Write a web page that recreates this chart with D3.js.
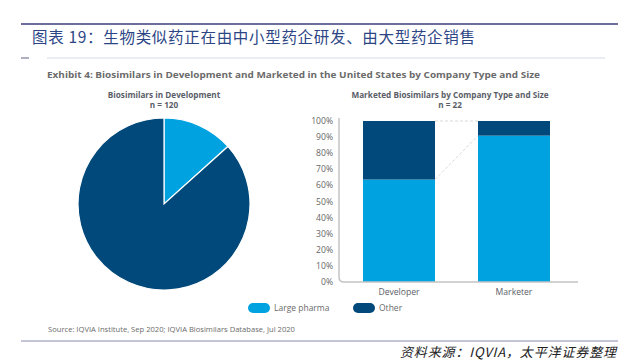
<!DOCTYPE html>
<html><head><meta charset="utf-8">
<script src="https://cdn.jsdelivr.net/npm/d3@7"></script>
<style>body{margin:0;background:#fff}svg{display:block}</style>
</head><body>
<script>
const series = ["Large pharma", "Other"];
const pieValues = [16, 104];
const barCategories = ["Developer", "Marketer"];
const barLarge = [14, 20];
const barOther = [8, 2];
const yTicks = [0,10,20,30,40,50,60,70,80,90,100];
const colors = ["#00a3e0", "#00497a"];

const W = 618, H = 360;
const svg = d3.select("body").append("svg").attr("width", W).attr("height", H);
const EN = "'Open Sans', sans-serif";
const CJK = "'Noto Sans CJK SC', sans-serif";

// header
svg.append("line").attr("x1",21).attr("x2",618).attr("y1",24).attr("y2",24).attr("stroke","#6e6e9c").attr("stroke-width",2);
svg.append("text").attr("x",32).attr("y",43).attr("font-family",CJK).attr("font-size",15.5).attr("fill","#2c4585")
  .attr("textLength",443).attr("lengthAdjust","spacing")
  .text("图表 19：生物类似药正在由中小型药企研发、由大型药企销售");
svg.append("line").attr("x1",47).attr("x2",605).attr("y1",58).attr("y2",58).attr("stroke","#d4dbe8").attr("stroke-width",1);
svg.append("line").attr("x1",21).attr("x2",29).attr("y1",58).attr("y2",58).attr("stroke","#777a9a").attr("stroke-width",1.2);
svg.append("text").attr("x",47).attr("y",78).attr("font-family",EN).attr("font-weight","bold").attr("font-size",9.6).attr("fill","#6b6b6b")
  .attr("textLength",493).attr("lengthAdjust","spacingAndGlyphs")
  .text("Exhibit 4: Biosimilars in Development and Marketed in the United States by Company Type and Size");

// pie
const cx = 164, cy = 204, r = 86;
const tcol = "#5a5e68";
svg.append("text").attr("x",cx).attr("y",98).attr("text-anchor","middle").attr("font-family",EN).attr("font-weight","bold").attr("font-size",8.2).attr("fill",tcol).text("Biosimilars in Development");
svg.append("text").attr("x",cx).attr("y",108).attr("text-anchor","middle").attr("font-family",EN).attr("font-weight","bold").attr("font-size",8.2).attr("fill",tcol).text("n = " + d3.sum(pieValues));
const pie = d3.pie().sort(null)(pieValues);
const arc = d3.arc().innerRadius(0).outerRadius(r);
svg.append("g").attr("transform",`translate(${cx},${cy})`).selectAll("path").data(pie).join("path")
  .attr("d",arc).attr("fill",(d,i)=>colors[i]).attr("stroke","#fff").attr("stroke-width",1.2);

// bar chart
const x0 = 339, x1 = 578, yTop = 121, yBot = 282;
svg.append("text").attr("x",450).attr("y",98).attr("text-anchor","middle").attr("font-family",EN).attr("font-weight","bold").attr("font-size",8.2).attr("fill",tcol).text("Marketed Biosimilars by Company Type and Size");
svg.append("text").attr("x",450).attr("y",108).attr("text-anchor","middle").attr("font-family",EN).attr("font-weight","bold").attr("font-size",8.2).attr("fill",tcol).text("n = " + (barLarge[0]+barOther[0]));
const y = d3.scaleLinear().domain([0,100]).range([yBot,yTop]);
const xb = d3.scaleBand().domain(barCategories).range([351.5,561.5]).paddingInner(0.374).paddingOuter(0.1);
const pct = barCategories.map((c,i)=>{const t=barLarge[i]+barOther[i];return {c, large:barLarge[i]/t*100, other:barOther[i]/t*100};});

// connectors
const dash = svg.append("g").attr("stroke","#cfcfcf").attr("stroke-width",0.8).attr("stroke-dasharray","3,2").attr("fill","none");
dash.append("line").attr("x1",xb("Developer")+xb.bandwidth()).attr("x2",xb("Marketer")).attr("y1",y(100)).attr("y2",y(100));
dash.append("line").attr("x1",xb("Developer")+xb.bandwidth()).attr("x2",xb("Marketer")).attr("y1",y(pct[0].large)).attr("y2",y(pct[1].large));

const g = svg.append("g");
g.selectAll("rect.l").data(pct).join("rect").attr("x",d=>xb(d.c)).attr("width",xb.bandwidth())
  .attr("y",d=>y(d.large)).attr("height",d=>yBot-y(d.large)).attr("fill",colors[0]);
g.selectAll("rect.o").data(pct).join("rect").attr("x",d=>xb(d.c)).attr("width",xb.bandwidth())
  .attr("y",d=>y(100)).attr("height",d=>y(d.large)-y(100)).attr("fill",colors[1]);

// axis
svg.append("path").attr("d",`M${x0},${yTop-3} L${x0},${yBot-5} Q${x0},${yBot} ${x0+5},${yBot} L${x1},${yBot}`)
  .attr("fill","none").attr("stroke","#c4c4c4").attr("stroke-width",1.5);
svg.append("g").selectAll("text").data(yTicks).join("text").attr("x",333).attr("y",d=>y(d)+3)
  .attr("text-anchor","end").attr("font-family",EN).attr("font-size",8.6).attr("fill","#666").text(d=>d+"%");
svg.append("g").selectAll("text").data(barCategories).join("text").attr("x",d=>xb(d)+xb.bandwidth()/2).attr("y",295)
  .attr("text-anchor","middle").attr("font-family",EN).attr("font-size",8.6).attr("fill","#5a5e68").text(d=>d);

// legend
const lx = [248, 353];
const lg = svg.append("g").selectAll("g").data(series).join("g").attr("transform",(d,i)=>`translate(${lx[i]},308)`);
lg.append("rect").attr("x",0).attr("y",-5).attr("width",22).attr("height",10).attr("rx",5).attr("fill",(d,i)=>colors[i]);
lg.append("text").attr("x",26).attr("y",3).attr("font-family",EN).attr("font-size",8.5).attr("fill","#6b6b6b").text(d=>d);

// source
svg.append("text").attr("x",48).attr("y",332).attr("font-family",EN).attr("font-size",7.6).attr("fill","#6b6b6b")
  .text("Source: IQVIA Institute, Sep 2020; IQVIA Biosimilars Database, Jul 2020");
svg.append("line").attr("x1",21).attr("x2",618).attr("y1",341).attr("y2",341).attr("stroke","#8a8ab0").attr("stroke-width",1);
svg.append("text").attr("x",616).attr("y",357).attr("text-anchor","end").attr("font-family",CJK).attr("font-style","italic").attr("font-size",13).attr("fill","#222")
  .attr("textLength",216).attr("lengthAdjust","spacing")
  .text("资料来源：IQVIA，太平洋证券整理");
</script>
</body></html>
